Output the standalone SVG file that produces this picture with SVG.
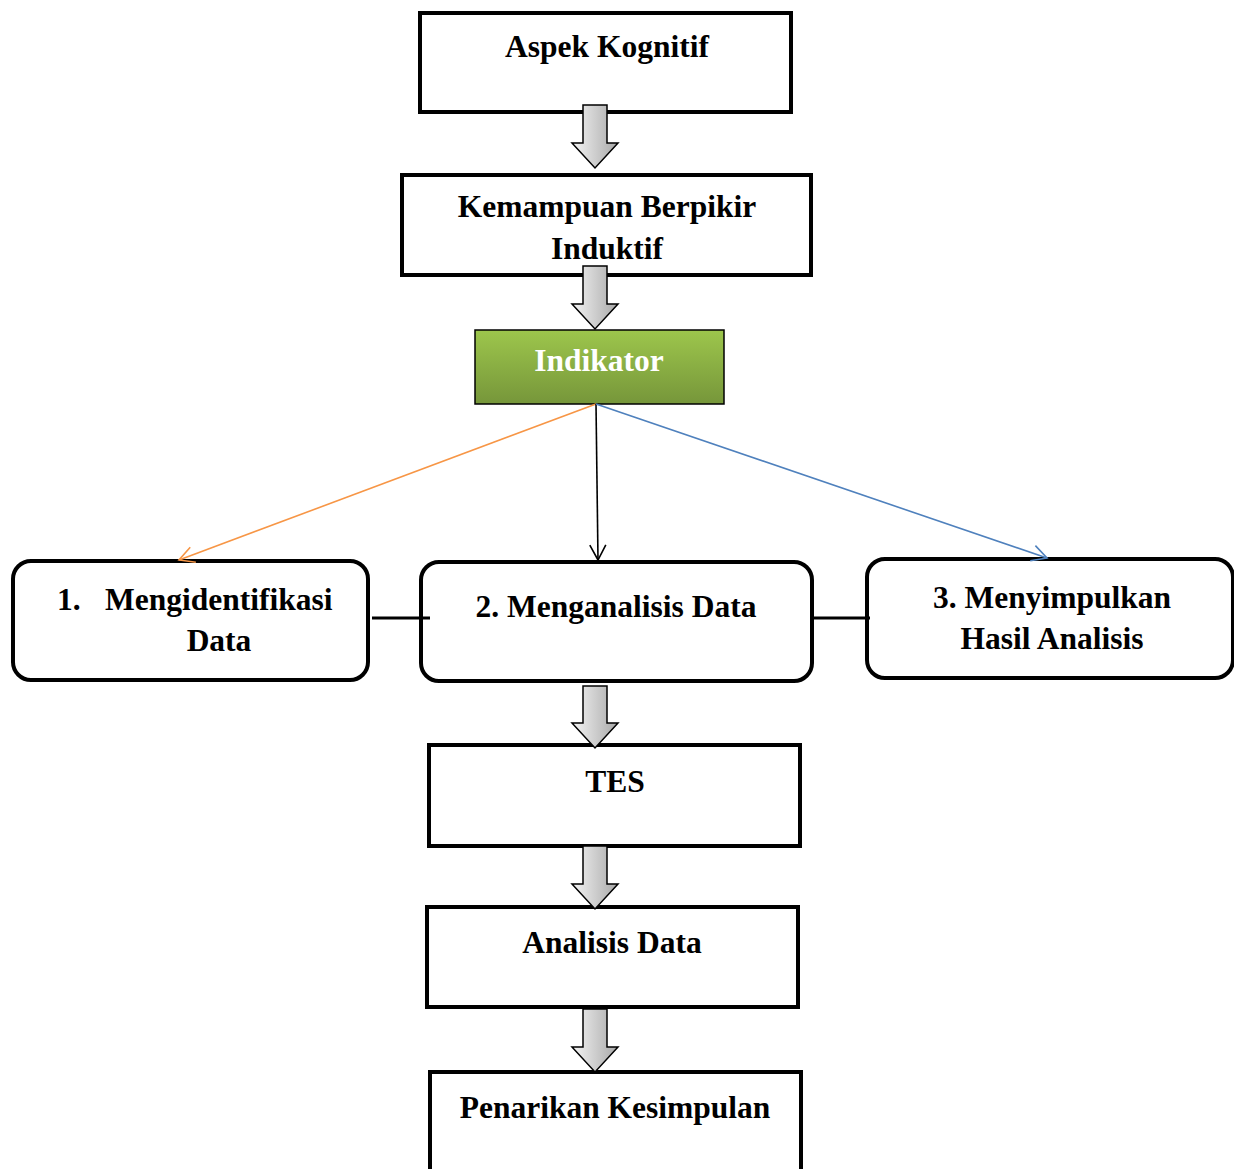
<svg xmlns="http://www.w3.org/2000/svg" width="1234" height="1169" viewBox="0 0 1234 1169">
<defs>
<style>
.box{fill:#fff;stroke:#000;stroke-width:4}
.t{font-family:"Liberation Serif","Times New Roman",serif;font-weight:bold;font-size:31.5px;fill:#000;text-anchor:middle}
.blk{fill:url(#ag);stroke:#000;stroke-width:1.5;stroke-linejoin:miter}
.ln{fill:none;stroke-width:1.6}
</style>
<linearGradient id="ag" x1="0" y1="0" x2="1" y2="0">
<stop offset="0" stop-color="#f4f4f4"/>
<stop offset="1" stop-color="#a8a8a8"/>
</linearGradient>
<linearGradient id="gg" x1="0" y1="0" x2="0" y2="1">
<stop offset="0" stop-color="#9dc64c"/>
<stop offset="1" stop-color="#76963a"/>
</linearGradient>
<marker id="mo" viewBox="0 0 20 20" refX="18" refY="10" markerWidth="20" markerHeight="20" markerUnits="userSpaceOnUse" orient="auto"><path d="M3,2 L18,10 L3,18" fill="none" stroke="#f79646" stroke-width="1.6"/></marker>
<marker id="mk" viewBox="0 0 20 20" refX="18" refY="10" markerWidth="20" markerHeight="20" markerUnits="userSpaceOnUse" orient="auto"><path d="M3,2 L18,10 L3,18" fill="none" stroke="#000" stroke-width="1.6"/></marker>
<marker id="mb" viewBox="0 0 20 20" refX="18" refY="10" markerWidth="20" markerHeight="20" markerUnits="userSpaceOnUse" orient="auto"><path d="M3,2 L18,10 L3,18" fill="none" stroke="#4f81bd" stroke-width="1.6"/></marker>
</defs>
<rect width="1234" height="1169" fill="#fff"/>
<g id="aspek">
<rect class="box" x="420" y="13" width="371" height="99"/>
<text class="t" x="607" y="57">Aspek Kognitif</text>
</g>
<g id="kemampuan">
<rect class="box" x="402" y="175" width="409" height="100"/>
<text class="t" x="607" y="217">Kemampuan Berpikir</text>
<text class="t" x="607" y="259">Induktif</text>
</g>
<g id="indikator">
<rect x="475" y="330" width="249" height="74" fill="url(#gg)" stroke="#000" stroke-width="1.5"/>
<text class="t" x="599" y="371" style="fill:#fff">Indikator</text>
</g>
<g id="ind1">
<rect class="box" x="13" y="561" width="355" height="119" rx="18"/>
<text class="t" x="57" y="610" style="text-anchor:start">1.</text>
<text class="t" x="105" y="610" style="text-anchor:start">Mengidentifikasi</text>
<text class="t" x="219" y="651">Data</text>
</g>
<g id="ind2">
<rect class="box" x="421" y="562" width="391" height="119" rx="18"/>
<text class="t" x="616" y="617">2. Menganalisis Data</text>
</g>
<g id="ind3">
<rect class="box" x="867" y="559" width="366" height="119" rx="18"/>
<text class="t" x="1052" y="608">3. Menyimpulkan</text>
<text class="t" x="1052" y="649">Hasil Analisis</text>
</g>
<g id="tes">
<rect class="box" x="429" y="745" width="371" height="101"/>
<text class="t" x="615" y="792">TES</text>
</g>
<g id="analisis">
<rect class="box" x="427" y="907" width="371" height="100"/>
<text class="t" x="612" y="953">Analisis Data</text>
</g>
<g id="penarikan">
<rect class="box" x="430" y="1072" width="371" height="110"/>
<text class="t" x="615" y="1118">Penarikan Kesimpulan</text>
</g>
<g id="connectors">
<path class="blk" d="M583,105 H607 V143 H618 L595,168 L572,143 H583 Z"/>
<path class="blk" d="M583,266 H607 V304 H618 L595,329 L572,304 H583 Z"/>
<path class="blk" d="M583,686 H607 V723 H618 L595,748 L572,723 H583 Z"/>
<path class="blk" d="M583,846 H607 V884 H618 L595,909 L572,884 H583 Z"/>
<path class="blk" d="M583,1009 H607 V1047 H618 L595,1072 L572,1047 H583 Z"/>
<line class="ln" x1="596" y1="404" x2="179" y2="560" stroke="#f79646" marker-end="url(#mo)"/>
<line class="ln" x1="596" y1="404" x2="598" y2="560" stroke="#000" marker-end="url(#mk)"/>
<line class="ln" x1="596" y1="404" x2="1047" y2="558" stroke="#4f81bd" marker-end="url(#mb)"/>
<line x1="372" y1="618" x2="430" y2="618" stroke="#000" stroke-width="3"/>
<line x1="812" y1="618" x2="870" y2="618" stroke="#000" stroke-width="3"/>
</g>
</svg>
